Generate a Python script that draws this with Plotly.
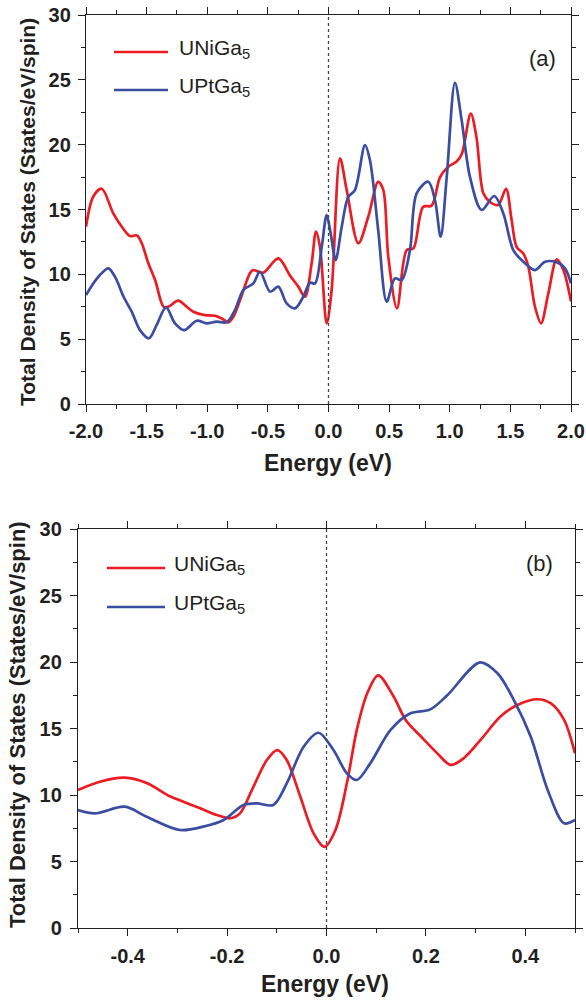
import plotly.graph_objects as go

# ---- Panel (a): full energy window, -2 .. 2 eV ----
e_ni_a = [-2.0, -1.94, -1.87, -1.775, -1.705, -1.637, -1.58, -1.54, -1.486, -1.43,
          -1.36, -1.32, -1.24, -1.17, -1.115, -1.02, -0.936, -0.88, -0.826, -0.785,
          -0.73, -0.647, -0.62, -0.54, -0.414, -0.317, -0.249, -0.194, -0.139, -0.103,
          -0.07, -0.015, 0.026, 0.095, 0.15, 0.246, 0.328, 0.41, 0.452, 0.493,
          0.565, 0.645, 0.70, 0.78, 0.85, 0.92, 0.988, 1.057, 1.1, 1.173,
          1.22, 1.277, 1.33, 1.40, 1.464, 1.51, 1.552, 1.607, 1.648, 1.703,
          1.753, 1.813, 1.882, 1.937, 2.0]
dos_ni_a = [13.67, 16.0, 16.6, 14.7, 13.67, 12.95, 13.0, 12.4, 10.85, 9.56,
            7.5, 7.5, 7.97, 7.5, 7.12, 6.86, 6.81, 6.6, 6.3, 6.73,
            8.0, 10.1, 10.33, 10.12, 11.23, 9.9, 9.05, 8.27, 10.85, 13.3,
            12.1, 6.22, 8.8, 18.95, 16.5, 12.4, 14.44, 17.14, 16.5, 11.36,
            7.38, 11.87, 12.0, 15.2, 15.3, 17.5, 18.3, 18.7, 19.3, 22.4,
            20.6, 16.25, 15.6, 15.35, 16.6, 14.2, 12.1, 11.6, 10.6, 7.5,
            6.22, 8.53, 11.15, 10.33, 7.9]

e_pt_a = [-2.0, -1.94, -1.885, -1.816, -1.76, -1.69, -1.623, -1.555, -1.48, -1.417,
          -1.34, -1.266, -1.19, -1.087, -1.005, -0.922, -0.84, -0.771, -0.703, -0.62,
          -0.565, -0.482, -0.414, -0.345, -0.276, -0.208, -0.153, -0.111, -0.056, -0.015,
          0.018, 0.059, 0.109, 0.163, 0.218, 0.301, 0.342, 0.41, 0.48, 0.548,
          0.604, 0.672, 0.727, 0.823, 0.878, 0.925, 0.975, 1.043, 1.098, 1.167,
          1.263, 1.367, 1.442, 1.524, 1.607, 1.703, 1.786, 1.882, 1.95, 2.0]
dos_pt_a = [8.4, 9.3, 9.95, 10.46, 9.8, 8.27, 7.12, 5.7, 5.07, 6.1,
            7.45, 6.22, 5.7, 6.42, 6.22, 6.35, 6.3, 7.25, 8.79, 9.3,
            10.2, 8.66, 9.05, 7.76, 7.38, 8.27, 9.35, 9.3, 12.1, 14.57,
            13.16, 11.1, 13.67, 15.98, 16.5, 19.97, 18.8, 13.4, 7.9, 9.69,
            9.56, 11.87, 16.25, 17.14, 15.73, 12.9, 17.5, 24.77, 21.9, 17.5,
            14.96, 16.04, 14.7, 11.87, 10.97, 10.33, 10.97, 10.93, 10.46, 9.3]

# ---- Panel (b): close-up around the Fermi level, -0.5 .. 0.5 eV ----
e_ni_b = [-0.5, -0.456, -0.406, -0.362, -0.315, -0.288, -0.254, -0.221, -0.194, -0.174,
          -0.15, -0.12, -0.099, -0.08, -0.053, -0.026, -0.004, 0.018, 0.041, 0.061,
          0.082, 0.104, 0.135, 0.16, 0.19, 0.223, 0.25, 0.276, 0.31, 0.35,
          0.384, 0.424, 0.451, 0.478, 0.5]
dos_ni_b = [10.38, 11.0, 11.3, 10.9, 9.9, 9.5, 9.0, 8.5, 8.25, 8.62,
            10.38, 12.63, 13.38, 12.63, 9.9, 7.12, 6.1, 7.37, 10.88, 14.9,
            17.65, 19.0, 17.4, 15.6, 14.4, 13.13, 12.26, 12.76, 14.14, 15.9,
            16.77, 17.2, 16.9, 15.65, 13.13]

e_pt_b = [-0.5, -0.466, -0.406, -0.362, -0.295, -0.248, -0.207, -0.167, -0.14, -0.107,
          -0.08, -0.046, -0.016, 0.014, 0.041, 0.061, 0.088, 0.129, 0.169, 0.209,
          0.243, 0.309, 0.344, 0.377, 0.411, 0.445, 0.478, 0.5]
dos_pt_b = [8.87, 8.62, 9.12, 8.37, 7.37, 7.62, 8.12, 9.25, 9.37, 9.25,
            10.88, 13.63, 14.68, 13.38, 11.63, 11.13, 12.38, 14.89, 16.14, 16.44,
            17.5, 19.97, 19.15, 17.14, 14.38, 10.38, 7.87, 8.12]

# Tick positions and labels
xticks_a = [-2.0, -1.5, -1.0, -0.5, 0.0, 0.5, 1.0, 1.5, 2.0]
xlabels_a = ["-2.0", "-1.5", "-1.0", "-0.5", "0.0", "0.5", "1.0", "1.5", "2.0"]
xticks_b = [-0.4, -0.2, 0.0, 0.2, 0.4]
xlabels_b = ["-0.4", "-0.2", "0.0", "0.2", "0.4"]
yticks = [0, 5, 10, 15, 20, 25, 30]
ylabels = ["0", "5", "10", "15", "20", "25", "30"]

names = ["UNiGa<sub>5</sub>", "UPtGa<sub>5</sub>"]
RED = "#ED1C24"
BLUE = "#3A4DA0"
INK = "#231F20"
FONT = "Liberation Sans, Arial, sans-serif"

fig = go.Figure()

line_kw = dict(shape="spline", smoothing=0.9, width=2.7)
fig.add_trace(go.Scatter(x=e_ni_a, y=dos_ni_a, mode="lines", name=names[0],
                         line=dict(color=RED, **line_kw), xaxis="x", yaxis="y"))
fig.add_trace(go.Scatter(x=e_pt_a, y=dos_pt_a, mode="lines", name=names[1],
                         line=dict(color=BLUE, **line_kw), xaxis="x", yaxis="y"))
fig.add_trace(go.Scatter(x=e_ni_b, y=dos_ni_b, mode="lines", name=names[0],
                         line=dict(color=RED, **line_kw), xaxis="x2", yaxis="y2"))
fig.add_trace(go.Scatter(x=e_pt_b, y=dos_pt_b, mode="lines", name=names[1],
                         line=dict(color=BLUE, **line_kw), xaxis="x2", yaxis="y2"))

W, H = 586, 1003
tickfont = dict(family=FONT, size=20, color=INK, weight="bold")
axis_common = dict(showline=True, linecolor=INK, linewidth=1.4, mirror="ticks",
                   ticks="outside", ticklen=7, tickwidth=1.4, tickcolor=INK,
                   showgrid=False, zeroline=False, tickfont=tickfont,
                   automargin=False, tickmode="array")

def minor(d):
    return dict(ticks="outside", ticklen=4, tickwidth=1.4, tickcolor=INK, dtick=d,
                tick0=0, showgrid=False)

fig.update_layout(
    width=W, height=H,
    margin=dict(l=0, r=0, t=0, b=0, autoexpand=False),
    paper_bgcolor="white", plot_bgcolor="white",
    showlegend=False,
    xaxis=dict(domain=[86 / W, 571 / W], range=[-2, 2], anchor="y",
               tickvals=xticks_a, ticktext=xlabels_a, ticklabelstandoff=2,
               minor=minor(0.25), **axis_common),
    yaxis=dict(domain=[1 - 404 / H, 1 - 15 / H], range=[0, 30], anchor="x",
               tickvals=yticks, ticktext=ylabels, ticklabelstandoff=3,
               minor=minor(2.5), **axis_common),
    xaxis2=dict(domain=[78 / W, 575 / W], range=[-0.5, 0.5], anchor="y2",
                tickvals=xticks_b, ticktext=xlabels_b, ticklabelstandoff=3,
                minor=minor(0.1), **axis_common),
    yaxis2=dict(domain=[1 - 928 / H, 1 - 529 / H], range=[0, 30], anchor="x2",
                tickvals=yticks, ticktext=ylabels, ticklabelstandoff=4,
                minor=minor(2.5), **axis_common),
)

# Fermi level markers
for xr, yr in (("x", "y domain"), ("x2", "y2 domain")):
    fig.add_shape(type="line", xref=xr, yref=yr, x0=0, x1=0, y0=0, y1=1,
                  line=dict(color="#444444", width=1.3, dash="dot"))

# Legend keys for each panel (sample line + label)
legend_rows = [
    # (line x0, line x1, text x, row y, colour, label)
    (114, 168, 177, 52, RED, names[0]),
    (114, 168, 177, 90, BLUE, names[1]),
    (107, 165, 172, 568, RED, names[0]),
    (107, 165, 172, 607, BLUE, names[1]),
]
legend_font = dict(family=FONT, size=21, color=INK)
for x0, x1, tx, ry, col, lab in legend_rows:
    fig.add_shape(type="line", xref="paper", yref="paper",
                  x0=x0 / W, x1=x1 / W, y0=1 - ry / H, y1=1 - ry / H,
                  line=dict(color=col, width=2.7))
    fig.add_annotation(xref="paper", yref="paper", showarrow=False, text=lab,
                       x=tx / W, y=1 - (ry - 3) / H, xanchor="left", yanchor="middle",
                       font=legend_font)

title_font = dict(family=FONT, size=23, color=INK, weight="bold")
ytitle = "Total Density of States (States/eV/spin)"

annotations = [
    dict(text="Energy (eV)", x=328 / W, y=1 - 463 / H, font=title_font),
    dict(text="Energy (eV)", x=325 / W, y=1 - 984 / H, font=title_font),
    dict(text=ytitle, x=27 / W, y=1 - 212 / H, textangle=-90,
         font=dict(family=FONT, size=21, color=INK, weight="bold")),
    dict(text=ytitle, x=17 / W, y=1 - 725 / H, textangle=-90,
         font=dict(family=FONT, size=22, color=INK, weight="bold")),
    dict(text="(a)", x=542 / W, y=1 - 58 / H,
         font=dict(family=FONT, size=22, color=INK)),
    dict(text="(b)", x=539 / W, y=1 - 563 / H,
         font=dict(family=FONT, size=22, color=INK)),
]
for a in annotations:
    fig.add_annotation(xref="paper", yref="paper", showarrow=False,
                       xanchor="center", yanchor="middle", **a)

fig.write_html("out.html")
